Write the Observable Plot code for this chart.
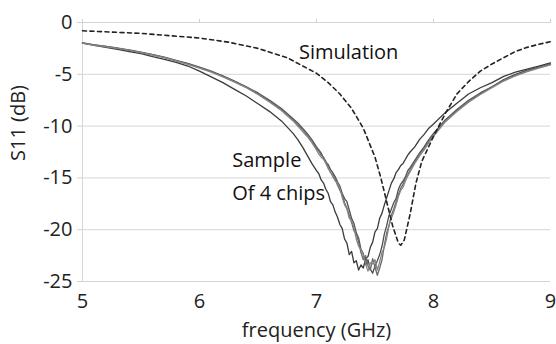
<!DOCTYPE html>
<html>
<head>
<meta charset="utf-8">
<script src="https://cdn.jsdelivr.net/npm/d3@7"></script>
<script src="https://cdn.jsdelivr.net/npm/@observablehq/plot@0.6"></script>
<style>
  html, body { margin: 0; padding: 0; background: #fff; }
  #chart { width: 556px; height: 344px; }
</style>
</head>
<body>
<div id="chart"></div>
<script>
// ---- data ----
const xTicks = [5, 6, 7, 8, 9];
const yTicks = [0, -5, -10, -15, -20, -25];

const freq = [5.0,5.1,5.2,5.3,5.4,5.5,5.6,5.7,5.8,5.9,6.0,6.1,6.2,6.3,6.4,6.5,6.6,6.7,6.8,
  6.84,6.88,6.92,6.96,
  7.00,7.02,7.04,7.06,7.08,7.10,7.12,7.14,7.16,7.18,
  7.20,7.22,7.24,7.26,7.28,7.30,7.32,7.34,7.36,7.38,
  7.40,7.42,7.44,7.46,7.48,7.50,7.52,7.54,7.56,7.58,
  7.60,7.62,7.64,7.66,7.68,7.70,7.72,7.74,7.76,7.78,
  7.80,
  7.84,7.88,7.92,7.96,8.0,
  8.1,8.2,8.3,8.4,8.5,8.6,8.7,8.8,8.9,9.0];

const chipA = [-2.0,-2.2,-2.4,-2.6,-2.8,-3.0,-3.3,-3.55,-3.85,-4.2,-4.7,-5.25,-5.8,-6.45,-7.1,-7.85,-8.6,-9.5,-10.7,
  -11.3,-12.0,-12.8,-13.6,
  -14.3,-14.6,-15.2,-15.5,-16.1,-16.5,-17.3,-17.6,-18.3,-18.8,
  -19.5,-19.9,-20.9,-21.3,-22.4,-22.1,-23.2,-23.0,-23.9,-23.4,
  -23.7,-22.8,-22.6,-21.7,-21.2,-20.2,-19.9,-18.9,-18.4,-17.6,
  -16.9,-16.2,-15.5,-15.1,-14.5,-14.2,-13.8,-13.6,-13.2,-12.8,
  -12.5,
  -12.0,-11.3,-10.8,-10.2,-9.8,
  -8.7,-7.8,-6.9,-6.3,-5.8,-5.2,-4.8,-4.5,-4.2,-3.9];

const chipB = [-2.0,-2.15,-2.3,-2.5,-2.65,-2.85,-3.1,-3.35,-3.65,-3.95,-4.3,-4.7,-5.15,-5.65,-6.2,-6.8,-7.5,-8.3,-9.3,
  -9.7,-10.2,-10.7,-11.3,
  -12.0,-12.3,-12.6,-13.1,-13.5,-13.7,-14.2,-14.5,-14.9,-15.4,
  -15.8,-16.5,-17.0,-17.3,-18.1,-18.9,-19.4,-20.3,-20.8,-21.9,
  -22.3,-23.4,-22.9,-23.8,-24.2,-23.5,-23.0,-22.4,-21.6,-20.4,
  -19.6,-18.6,-18.0,-17.4,-17.0,-16.1,-15.6,-15.3,-14.9,-14.3,
  -14.0,
  -13.3,-12.6,-12.0,-11.3,-10.7,
  -9.4,-8.4,-7.5,-6.8,-6.2,-5.5,-5.0,-4.6,-4.3,-4.0];

const chipC = [-1.95,-2.15,-2.3,-2.45,-2.7,-2.9,-3.1,-3.4,-3.7,-4.0,-4.35,-4.75,-5.2,-5.7,-6.25,-6.9,-7.6,-8.4,-9.4,
  -9.9,-10.3,-10.9,-11.4,
  -12.2,-12.4,-12.8,-13.0,-13.4,-14.0,-14.5,-14.7,-15.1,-15.7,
  -16.2,-16.6,-17.4,-17.9,-18.6,-19.3,-20.1,-20.4,-21.2,-22.2,
  -22.9,-22.5,-23.5,-23.9,-22.8,-23.6,-24.4,-23.7,-22.9,-21.5,
  -20.3,-19.6,-18.6,-18.0,-17.3,-16.6,-16.0,-15.6,-15.0,-14.7,
  -14.2,
  -13.5,-12.7,-12.2,-11.5,-10.9,
  -9.5,-8.5,-7.6,-6.9,-6.2,-5.6,-5.1,-4.7,-4.35,-4.05];

const chipD = [-2.0,-2.2,-2.35,-2.5,-2.7,-2.9,-3.15,-3.4,-3.7,-4.05,-4.4,-4.8,-5.25,-5.75,-6.3,-6.95,-7.7,-8.5,-9.5,
  -10.0,-10.5,-11.0,-11.6,
  -12.3,-12.7,-13.0,-13.2,-13.6,-14.1,-14.4,-14.9,-15.3,-15.5,
  -16.0,-16.9,-17.6,-18.0,-18.9,-19.1,-19.8,-20.9,-21.6,-21.9,
  -22.4,-23.3,-24.0,-23.2,-23.3,-22.9,-23.9,-23.1,-22.2,-21.7,
  -20.8,-19.6,-18.9,-18.3,-17.6,-16.8,-16.2,-15.9,-15.3,-14.8,
  -14.4,
  -13.6,-12.9,-12.3,-11.6,-11.0,
  -9.6,-8.6,-7.7,-6.95,-6.3,-5.65,-5.15,-4.75,-4.4,-4.1];

const simFreq = [5.0,5.5,6.0,6.25,6.5,6.75,7.0,7.1,7.2,7.3,7.4,7.5,7.55,7.6,7.65,7.7,7.72,7.75,7.8,7.85,7.9,7.95,8.0,8.1,8.2,8.3,8.4,8.5,8.6,8.7,8.8,8.9,9.0];
const simS11 = [-0.8,-1.05,-1.5,-1.9,-2.5,-3.4,-4.9,-5.8,-6.9,-8.3,-10.2,-13.0,-15.0,-17.3,-19.6,-21.3,-21.5,-21.0,-18.5,-15.5,-13.4,-12.2,-11.0,-8.8,-6.9,-5.7,-4.7,-4.0,-3.4,-2.8,-2.4,-2.1,-1.85];

const labelText = ["Simulation", "Sample", "Of 4 chips"];
const labelFreq = [6.85, 6.28, 6.28];
const labelS11 = [-2.9, -13.3, -16.5];

const xTitle = "frequency (GHz)";
const yTitle = "S11 (dB)";

const chipColors = ["#3a3a3a", "#505050", "#6a6a6a", "#858585"];

// ---- build tables ----
const chips = [chipA, chipB, chipC, chipD].map((vals, i) =>
  vals.map((v, j) => ({f: freq[j], s: v, chip: i})));
const sim = simFreq.map((f, i) => ({f, s: simS11[i]}));
const labels = labelText.map((t, i) => ({t, f: labelFreq[i], s: labelS11[i]}));

const FS = 20;
const chart = Plot.plot({
  width: 556,
  height: 344,
  marginLeft: 82,
  marginRight: 6,
  marginTop: 22,
  marginBottom: 63,
  style: {fontFamily: "'Open Sans', sans-serif", fontSize: FS + "px", color: "#222", background: "#fff"},
  x: {domain: [5, 9], ticks: xTicks},
  y: {domain: [-25, 0], ticks: yTicks},
  marks: [
    Plot.gridY(yTicks, {stroke: "#d6d6d6", strokeOpacity: 1}),
    Plot.ruleX([5], {stroke: "#d6d6d6"}),
    Plot.axisX(xTicks, {anchor: "top", tickSize: 4, stroke: "#d0d0d0", tickFormat: () => "", label: null}),
    Plot.axisX(xTicks, {anchor: "bottom", tickSize: 0, tickPadding: 12, tickFormat: d => String(d), fontSize: FS, label: xTitle, labelAnchor: "center", labelOffset: 55, labelArrow: "none", fill: "#222"}),
    Plot.axisY(yTicks, {anchor: "left", tickSize: 5, tickPadding: 5, stroke: "#d0d0d0", tickFormat: d => String(d), fontSize: FS, label: null, fill: "#222"}),
    Plot.text([yTitle], {frameAnchor: "left", rotate: -90, dx: -64, dy: 9, fill: "#222", fontSize: FS}),
    ...chips.map((c, i) => Plot.line(c, {x: "f", y: "s", stroke: chipColors[i], strokeWidth: 1.3})),
    Plot.line(sim, {x: "f", y: "s", stroke: "#222", strokeWidth: 1.6, strokeDasharray: "4,3.5"}),
    Plot.text(labels, {x: "f", y: "s", text: "t", textAnchor: "start", fill: "#111", fontSize: FS})
  ]
});
document.getElementById("chart").appendChild(chart);
</script>
</body>
</html>
